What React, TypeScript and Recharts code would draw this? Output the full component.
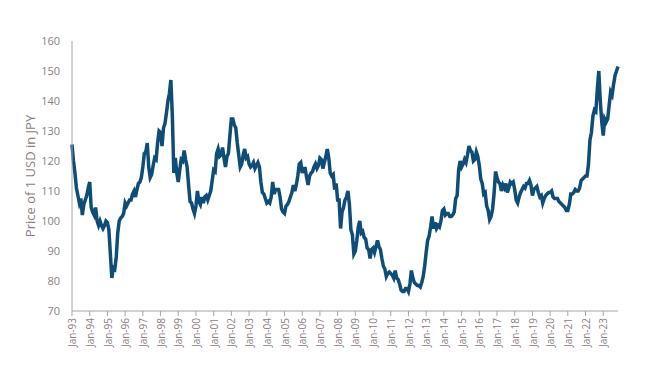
import React from "react";
import { LineChart, Line, XAxis, YAxis } from "recharts";

const monthNames = ["Jan","Feb","Mar","Apr","May","Jun","Jul","Aug","Sep","Oct","Nov","Dec"];
const startYear = 1993;
const yTicks = [70, 80, 90, 100, 110, 120, 130, 140, 150, 160];

// Monthly USD/JPY readings, Jan-93 onward
const rates1993to1999 = [
  125.5,120,116,111,108.5,106,107.5,102,105.5,107,108.5,111,
  113,104.5,103,102,104.5,100,98.5,100,98.5,97.5,98.5,100,
  99.5,97,89,81,84.5,84,88,96,100,101,101.5,102.5,
  106,105,106,107,107,109,110,108,110.5,112.5,113,114.5,
  118,122.5,123,126,118,114.5,115.5,118.5,121,120.5,126,130,
  129.5,125,131,132.5,136,140,142.5,147,135,116,121,116,
  113,117,120.5,120,123.5,120.5,118,112,106.5,106,104,102.5,
];
const rates2000to2009 = [
  105,110,106.5,105.5,108,106,108,108.5,107,108.5,110,113.5,
  117,116.5,122.5,124,121.5,122,124.5,121,118,121.5,122.5,128.5,
  134,134,132,131,126,122,118,119,122,124,121,121.5,
  119,118,118.5,119.5,117.5,118.5,119.5,118,113,109.5,109,107.5,
  106,106.5,106,108,113,109,110.5,110.5,110.5,108,104,103,
  102.5,105,105.5,106.5,108,109.5,112,110,112,115,119,119.5,
  116,117.5,117.5,114.5,112,115,116,116.5,118,119,117.5,118.5,
  121,120.5,117.5,119.5,121.5,124,121,116,115,115.5,110.5,112.5,
  107,107,97.5,103,104.5,107,108,110,105.5,97,95.5,89,
  90,93.5,98,100,96,96.5,94.5,94,91,90.5,87.5,90.5,
];
const rates2010to2019 = [
  91,89.5,91.5,93.5,91.5,90.5,87.5,85,84,81.5,82.5,83,
  82.5,82,81,83.5,81,80.5,79,77,76.5,76.5,77.5,77.5,
  76.5,79,83.5,81,79.5,79,78.5,78.5,78,79.5,81.5,85,
  89.5,93.5,95,98,101.5,97.5,99.5,97.5,98.5,98,100,103.5,
  104,102,102.5,102.5,101.5,101.5,102,103,107.5,108.5,117,120,
  118,119,120.5,119.5,122,125,123.5,123,120,120.5,123,121.5,
  118.5,114,112.5,109,109.5,105,103.5,100.5,101.5,104,109,116.5,
  114.5,113,112.5,110,112,111,112.5,109.5,111,113,112.5,113,
  110.5,107,106,108,109.5,110.5,111.5,111,112.5,112.5,113.5,112,
  108.5,110.5,111,111.5,109.5,108,108.5,106,107.5,108.5,109,109.5,
];
const rates2020to2023 = [
  109.5,110,108,107.5,107.5,107.5,106.5,106,105.5,105,104.5,103.5,
  103.5,105.5,109,109,109.5,110.5,110,110,111,113.5,114,114.5,
  115,115,119,127,129.5,135,137,136.5,144,150,140,133,
  128.5,134,133,134,138.5,143,142,145.5,148.5,150,151.5,
];

const allRates = [...rates1993to1999, ...rates2000to2009, ...rates2010to2019, ...rates2020to2023];

const data = allRates.map((v, i) => {
  const y = startYear + Math.floor(i / 12);
  const m = i % 12;
  return { date: `${monthNames[m]}-${String(y % 100).padStart(2, "0")}`, rate: v };
});

const labelColor = "#8c8080";
const axisColor = "#a6a6a6";
const font = "'Open Sans', sans-serif";

export default function App() {
  return (
    <div style={{ position: "absolute", left: 0, top: 0, background: "#fff" }}>
      <LineChart
        width={649}
        height={373}
        data={data}
        margin={{ top: 41, right: 31, left: 0, bottom: 0 }}
      >
        <XAxis
          dataKey="date"
          interval={11}
          height={62}
          angle={-90}
          textAnchor="end"
          tickSize={5}
          tickMargin={2}
          stroke={axisColor}
          tickLine={{ stroke: axisColor }}
          tick={{ fill: labelColor, fontSize: 10, fontFamily: font, dx: -3 }}
          padding={{ left: 0, right: 0 }}
        />
        <YAxis
          domain={[70, 160]}
          ticks={yTicks}
          width={72}
          tickLine={false}
          tickSize={6}
          tickMargin={6}
          stroke={axisColor}
          tick={{ fill: labelColor, fontSize: 11, fontFamily: font }}
          label={{
            value: "Price of 1 USD in JPY",
            angle: -90,
            position: "center",
            dx: -6,
            dy: 0,
            style: { fill: labelColor, fontSize: 13, fontFamily: font },
          }}
        />
        <Line
          type="linear"
          dataKey="rate"
          stroke="#0e4d78"
          strokeWidth={3.5}
          dot={false}
          isAnimationActive={false}
        />
      </LineChart>
    </div>
  );
}
